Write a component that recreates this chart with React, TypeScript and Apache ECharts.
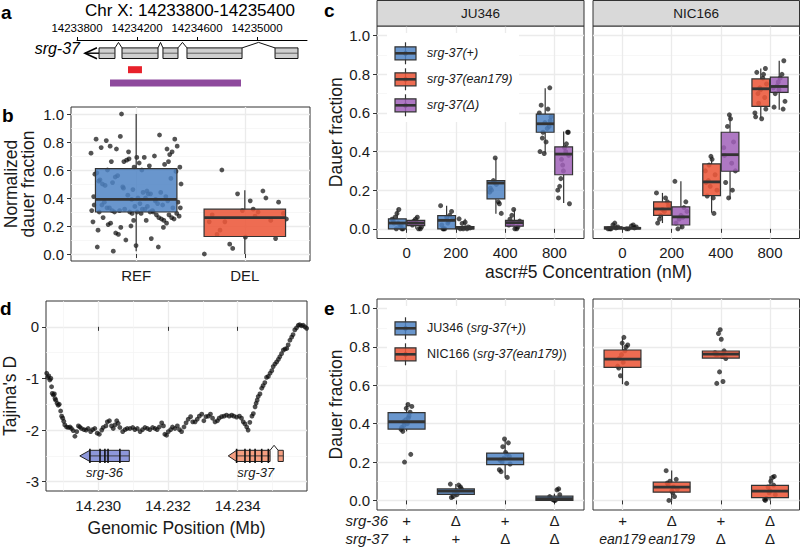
import React, { useEffect, useRef } from 'react';
import * as echarts from 'echarts';

// ---------------- data ----------------
// a: gene model of srg-37
const regionTicks = [14233800, 14234200, 14234600, 14235000];
const regionMin = 14233800;
const regionMax = 14235333;
const regionTitle = 'Chr X: 14233800-14235400';
const srg37TxStart = 14233853;
const srg37Exons = [
  [14233947, 14234053],
  [14234100, 14234340],
  [14234373, 14234473],
  [14234533, 14234900],
  [14235120, 14235273],
];
const ean179Span = [14234140, 14234233];
const deltaSpan = [14234020, 14234893];

// b
const bCategories = ['REF', 'DEL'];
const bBoxStats = [
  [0.02, 0.30, 0.39, 0.61, 1.00],
  [0.00, 0.125, 0.26, 0.32, 0.455],
];
const bRefValues = [0.45, 0.31, 0.66, 0.24, 0.52, 0.38, 0.84, 0.29, 0.60, 0.33, 0.19, 0.73, 0.41, 0.30, 0.55, 0.26, 0.69, 0.35, 0.05, 0.47,
  0.62, 0.32, 0.77, 0.22, 0.39, 0.58, 0.30, 0.14, 0.82, 0.36, 0.49, 0.25, 0.67, 0.31, 0.43, 0.02, 0.71, 0.34, 0.53, 0.28,
  1.00, 0.37, 0.44, 0.21, 0.64, 0.30, 0.57, 0.11, 0.75, 0.33, 0.40, 0.26, 0.85, 0.32, 0.50, 0.24, 0.66, 0.38, 0.46, 0.17,
  0.70, 0.31, 0.59, 0.29, 0.81, 0.35, 0.42, 0.23, 0.63, 0.30, 0.54, 0.06, 0.76, 0.36, 0.48, 0.27, 0.69, 0.33, 0.41, 0.20,
  0.82, 0.31, 0.56, 0.25, 0.65, 0.37, 0.44, 0.10, 0.72, 0.34, 0.51, 0.28, 0.62, 0.30, 0.39, 0.19, 0.77, 0.32, 0.60, 0.24,
  0.68, 0.35, 0.43, 0.15, 0.73, 0.30, 0.50, 0.26, 0.66, 0.33, 0.40, 0.22, 0.75, 0.29, 0.05];
const bDelValues = [0.27, 0.60, 0.11, 0.31, 0.23, 0.45, 0.07, 0.29, 0.38, 0.14, 0.24, 0.43, 0.00, 0.30, 0.23, 0.37, 0.12, 0.28, 0.40, 0.04, 0.25, 0.32, 0.17];

// c
const cFacets = ['JU346', 'NIC166'];
const cConcLabels = ['0', '200', '400', '800'];
const cLegendLabels = ['srg-37(+)', 'srg-37(ean179)', 'srg-37(Δ)'];
const cJU346PlusBox = [
  [0.0, 0.0, 0.03, 0.052, 0.105],
  [0.0, 0.0, 0.044, 0.068, 0.12],
  [0.078, 0.155, 0.237, 0.25, 0.367],
  [0.39, 0.50, 0.544, 0.594, 0.728],
];
const cJU346PlusPts = [
  [0.10, 0.03, 0.0, 0.08, 0.05, 0.01, 0.06, 0.0, 0.03, 0.04, 0.02, 0.0],
  [0.12, 0.04, 0.0, 0.09, 0.06, 0.02, 0.07, 0.0, 0.05, 0.03, 0.0],
  [0.367, 0.21, 0.14, 0.25, 0.08, 0.23, 0.20, 0.13, 0.24, 0.19],
  [0.73, 0.55, 0.40, 0.62, 0.50, 0.58, 0.45, 0.64, 0.53, 0.39, 0.60, 0.52, 0.47, 0.56],
];
const cJU346DeltaBox = [
  [0.0, 0.017, 0.03, 0.044, 0.065],
  [0.0, 0.0, 0.004, 0.012, 0.052],
  [0.0, 0.014, 0.032, 0.044, 0.10],
  [0.134, 0.28, 0.387, 0.424, 0.504],
];
const cJU346DeltaPts = [
  [0.06, 0.02, 0.0, 0.05, 0.03, 0.0, 0.04, 0.01, 0.03],
  [0.052, 0.0, 0.028, 0.005, 0.034, 0.0, 0.01, 0.0],
  [0.10, 0.02, 0.0, 0.07, 0.04, 0.0, 0.05, 0.01, 0.03],
  [0.50, 0.30, 0.16, 0.44, 0.36, 0.13, 0.42, 0.22, 0.50, 0.33, 0.20, 0.40, 0.26, 0.38],
];
const cNIC166Ean179Box = [
  [0.0, 0.0, 0.004, 0.01, 0.03],
  [0.03, 0.07, 0.103, 0.14, 0.186],
  [0.083, 0.172, 0.243, 0.336, 0.375],
  [0.573, 0.634, 0.725, 0.776, 0.83],
];
const cNIC166Ean179Pts = [
  [0.03, 0.0, 0.01, 0.02, 0.0, 0.005, 0.0],
  [0.186, 0.09, 0.05, 0.14, 0.10, 0.03, 0.16, 0.07, 0.12],
  [0.375, 0.24, 0.08, 0.33, 0.20, 0.36, 0.17, 0.28, 0.22, 0.30, 0.16, 0.25],
  [0.83, 0.72, 0.58, 0.80, 0.65, 0.75, 0.57, 0.81, 0.68, 0.73, 0.60, 0.78, 0.70, 0.62],
];
const cNIC166DeltaBox = [
  [0.0, 0.0, 0.003, 0.006, 0.02],
  [0.0, 0.02, 0.062, 0.114, 0.246],
  [0.155, 0.298, 0.384, 0.50, 0.59],
  [0.616, 0.706, 0.737, 0.785, 0.87],
];
const cNIC166DeltaPts = [
  [0.02, 0.0, 0.01, 0.015, 0.0, 0.005],
  [0.246, 0.06, 0.0, 0.14, 0.07, 0.03, 0.11, 0.05, 0.09, 0.01],
  [0.59, 0.38, 0.20, 0.53, 0.30, 0.57, 0.24, 0.45, 0.16, 0.42, 0.34],
  [0.87, 0.72, 0.63, 0.80, 0.74, 0.66, 0.78, 0.70, 0.62, 0.76, 0.73],
];

// d
const tajimaPos = [
  14.22852, 14.22855, 14.22858, 14.22861, 14.22864, 14.22866, 14.22868, 14.22871, 14.22874, 14.22876,
  14.22878, 14.22882, 14.22885, 14.22888, 14.22892, 14.22895, 14.22898, 14.22901, 14.22904, 14.22909,
  14.22914, 14.22919, 14.22923, 14.22928, 14.22933, 14.22938, 14.22943, 14.22947, 14.22952, 14.22959,
  14.22965, 14.22971, 14.22978, 14.22984, 14.22990, 14.22997, 14.23003, 14.23010, 14.23014, 14.23022,
  14.23026, 14.23032, 14.23038, 14.23043, 14.23048, 14.23053, 14.23057, 14.23062, 14.23070, 14.23077,
  14.23083, 14.23091, 14.23099, 14.23105, 14.23112, 14.23120, 14.23127, 14.23134, 14.23141, 14.23148,
  14.23156, 14.23163, 14.23169, 14.23175, 14.23182, 14.23187, 14.23191, 14.23196, 14.23201, 14.23208,
  14.23213, 14.23220, 14.23227, 14.23233, 14.23239, 14.23246, 14.23252, 14.23258, 14.23265, 14.23271,
  14.23278, 14.23284, 14.23290, 14.23297, 14.23303, 14.23309, 14.23316, 14.23322, 14.23328, 14.23335,
  14.23342, 14.23347, 14.23354, 14.23361, 14.23368, 14.23376, 14.23383, 14.23389, 14.23397, 14.23405,
  14.23411, 14.23416, 14.23421, 14.23426, 14.23430, 14.23435, 14.23441, 14.23445, 14.23450, 14.23453,
  14.23456, 14.23459, 14.23464, 14.23469, 14.23473, 14.23478, 14.23483, 14.23488, 14.23493, 14.23498,
  14.23502, 14.23507, 14.23512, 14.23517, 14.23521, 14.23526, 14.23531, 14.23536, 14.23541, 14.23545,
  14.23550, 14.23555, 14.23559, 14.23564, 14.23569, 14.23574, 14.23578, 14.23583, 14.23588, 14.23593,
  14.23598,
];
const tajimaD = [
  -0.90, -0.98, -0.95, -1.03, -1.00, -1.16, -1.29, -1.32, -1.30, -1.39,
  -1.42, -1.48, -1.52, -1.50, -1.63, -1.73, -1.77, -1.83, -1.90, -1.94,
  -1.95, -1.94, -1.97, -2.01, -2.12, -2.03, -1.92, -1.94, -1.97, -1.99,
  -2.00, -1.97, -2.03, -1.99, -1.97, -2.06, -2.08, -2.00, -1.95, -1.92,
  -1.84, -1.82, -1.92, -1.97, -1.90, -1.82, -1.87, -1.95, -2.03, -1.99,
  -1.97, -1.97, -1.95, -1.99, -1.97, -2.03, -1.99, -1.95, -1.97, -1.99,
  -1.95, -1.97, -1.99, -1.94, -1.86, -1.92, -2.08, -2.10, -2.03, -1.99,
  -1.94, -1.97, -1.92, -1.99, -2.03, -1.94, -1.86, -1.79, -1.74, -1.84,
  -1.84, -1.79, -1.73, -1.69, -1.82, -1.74, -1.73, -1.69, -1.77, -1.84,
  -1.82, -1.77, -1.74, -1.73, -1.71, -1.73, -1.71, -1.73, -1.75, -1.73,
  -1.77, -1.84, -1.88, -1.94, -2.00, -1.85, -1.73, -1.68, -1.55, -1.48,
  -1.42, -1.35, -1.30, -1.19, -1.14, -1.08, -0.98, -0.96, -0.90, -0.85,
  -0.77, -0.72, -0.68, -0.63, -0.58, -0.52, -0.45, -0.43, -0.42, -0.35,
  -0.26, -0.20, -0.15, -0.06, -0.02, 0.03, 0.04, 0.02, 0.03, 0.00,
  -0.03,
];
const dXMin = 14.2285;
const dXMax = 14.23599;
const dYMin = -3.18;
const dYMax = 0.5;
const dXTicks = [14.230, 14.232, 14.234];
const dXMinor = [14.229, 14.231, 14.233, 14.235];
const dYTicks = [-3, -2, -1, 0];
const dYMinor = [-2.5, -1.5, -0.5];
const dGenes = [
  { name: 'srg-36', start: 14.22947, end: 14.23089, marks: [14.22976, 14.23005, 14.23019, 14.23028, 14.23062], intron: null as number[] | null },
  { name: 'srg-37', start: 14.23373, end: 14.23531, marks: [14.23397, 14.23421, 14.23435, 14.2345, 14.23469, 14.23488], intron: [14.23493, 14.23516] },
];
const dGeneTrack = -2.5;

// e
const eSrg36 = ['+', 'Δ', '+', 'Δ'];
const eSrg37JU346 = ['+', '+', 'Δ', 'Δ'];
const eSrg37NIC166 = ['ean179', 'ean179', 'Δ', 'Δ'];
const eJU346Box = [
  [0.36, 0.372, 0.41, 0.458, 0.507],
  [0.017, 0.031, 0.048, 0.06, 0.085],
  [0.118, 0.187, 0.216, 0.247, 0.317],
  [0.0, 0.0, 0.009, 0.022, 0.035],
];
const eJU346Pts = [
  [0.50, 0.41, 0.24, 0.48, 0.38, 0.44, 0.20, 0.49, 0.40, 0.36, 0.46, 0.42, 0.37, 0.43, 0.39],
  [0.085, 0.045, 0.02, 0.07, 0.05, 0.015, 0.08, 0.04, 0.06, 0.03],
  [0.32, 0.21, 0.12, 0.28, 0.19, 0.25, 0.15, 0.30, 0.22, 0.16, 0.24, 0.20, 0.23],
  [0.06, 0.0, 0.02, 0.055, 0.005, 0.03, 0.0, 0.01],
];
const eNIC166Box = [
  [0.606, 0.694, 0.737, 0.784, 0.848],
  [0.0, 0.043, 0.069, 0.095, 0.156],
  [0.742, 0.742, 0.763, 0.779, 0.779],
  [0.0, 0.014, 0.048, 0.078, 0.126],
];
const eNIC166Pts = [
  [0.85, 0.74, 0.61, 0.82, 0.70, 0.78, 0.65, 0.81, 0.72, 0.69, 0.80, 0.76],
  [0.155, 0.07, 0.0, 0.11, 0.05, 0.09, 0.02, 0.10, 0.06, 0.04, 0.08],
  [0.89, 0.76, 0.62, 0.87, 0.74, 0.84, 0.61, 0.78, 0.67, 0.77, 0.75, 0.76],
  [0.125, 0.05, 0.0, 0.12, 0.07, 0.03, 0.10, 0.01, 0.08, 0.04, 0.005],
];

const fracTicks = [0, 0.2, 0.4, 0.6, 0.8, 1.0];
const fracMinor = [0.1, 0.3, 0.5, 0.7, 0.9];
const catTicks4 = [1, 2, 3, 4];
const catTicks2 = [1, 2];

// ---------------- styles ----------------
const FONT = '"Liberation Sans", Arial, Helvetica, sans-serif';
const INK = '#1a1a1a';
const BORDER = '#333333';
const GRID_MAJOR = '#EBEBEB';
const GRID_MINOR = '#F3F3F3';
const BLUE = 'rgba(79,132,196,0.85)';
const ORANGE = 'rgba(236,88,58,0.88)';
const PURPLE = 'rgba(160,96,184,0.85)';
const DOT = 'rgba(12,12,12,0.88)';

// deterministic jitter offset in [-1, 1)
const jitter = (i: number, k: number) => ((((i + 1) * 0.6180339887 + k * 0.4142) % 1) * 2 - 1);

function buildOption() {
  const grid: any[] = [];
  const xAxis: any[] = [];
  const yAxis: any[] = [];
  const series: any[] = [];
  const graphic: any[] = [];

  const addGrid = (left: number, top: number, width: number, height: number, framed = true) => {
    grid.push({ left, top, width, height, show: framed, borderColor: BORDER, borderWidth: 1,
      backgroundColor: framed ? '#fff' : 'transparent', containLabel: false, outerBoundsMode: 'none' });
    return grid.length - 1;
  };
  const push = (list: any[], a: any) => { list.push(a); return list.length - 1; };
  const labelStyle = { fontSize: 15, color: INK, fontFamily: FONT };
  const major = (gridIndex: number, min: number, max: number, ticks: number[], formatter: any, showTicks: boolean, extra: any = {}) => ({
    type: 'value', gridIndex, min, max, nameMoveOverlap: false,
    axisLine: { show: false },
    axisTick: { show: showTicks, customValues: ticks, length: 4, lineStyle: { color: BORDER, width: 1 } },
    axisLabel: { show: !!formatter, customValues: ticks, formatter: formatter || undefined, margin: 7, hideOverlap: false, ...labelStyle },
    splitLine: { show: true, lineStyle: { color: GRID_MAJOR, width: 1.3 } },
    ...extra,
  });
  const minor = (gridIndex: number, min: number, max: number, ticks: number[], position: string) => ({
    type: 'value', gridIndex, min, max, position,
    axisLine: { show: false },
    axisTick: { show: false, customValues: ticks },
    axisLabel: { show: false, customValues: ticks },
    splitLine: { show: true, lineStyle: { color: GRID_MINOR, width: 0.7 } },
  });
  const nameStyle = { fontSize: 17.5, color: INK, fontFamily: FONT };

  const boxSeries = (xi: number, yi: number, items: number[][], hw: number, fill: string) => ({
    type: 'custom', xAxisIndex: xi, yAxisIndex: yi, data: items, silent: true, z: 3,
    encode: { x: 0, y: [1, 2, 3, 4, 5] },
    renderItem: (params: any, api: any) => {
      const x = api.value(0);
      const lo = api.value(1), q1 = api.value(2), med = api.value(3), q3 = api.value(4), hi = api.value(5);
      const xl = api.coord([x - hw, med])[0];
      const xr = api.coord([x + hw, med])[0];
      const xc = api.coord([x, med])[0];
      const yLo = api.coord([x, lo])[1], yQ1 = api.coord([x, q1])[1], yMed = api.coord([x, med])[1];
      const yQ3 = api.coord([x, q3])[1], yHi = api.coord([x, hi])[1];
      return {
        type: 'group', children: [
          { type: 'line', shape: { x1: xc, y1: yHi, x2: xc, y2: yQ3 }, style: { stroke: BORDER, lineWidth: 1.2 } },
          { type: 'line', shape: { x1: xc, y1: yQ1, x2: xc, y2: yLo }, style: { stroke: BORDER, lineWidth: 1.2 } },
          { type: 'rect', shape: { x: xl, y: yQ3, width: xr - xl, height: Math.max(yQ1 - yQ3, 0.5) }, style: { fill, stroke: BORDER, lineWidth: 1.2 } },
          { type: 'line', shape: { x1: xl, y1: yMed, x2: xr, y2: yMed }, style: { stroke: BORDER, lineWidth: 2.8 } },
        ],
      };
    },
  });
  const pointSeries = (xi: number, yi: number, groups: number[][], center: (k: number) => number, spread: number, size = 5) => {
    const data: number[][] = [];
    groups.forEach((vals, k) => vals.forEach((v, i) => data.push([center(k) + jitter(i, k) * spread, v])));
    return { type: 'scatter', xAxisIndex: xi, yAxisIndex: yi, data, symbolSize: size, silent: true, z: 2,
      itemStyle: { color: DOT }, emphasis: { disabled: true } };
  };

  // ---------- panel a ----------
  const gA = addGrid(77, 40, 230, 49.5, false);
  const xA = push(xAxis, {
    type: 'value', gridIndex: gA, position: 'top', min: regionMin, max: regionMax,
    axisLine: { show: true, lineStyle: { color: '#000', width: 1 } },
    axisTick: { show: true, customValues: regionTicks, length: 3, lineStyle: { color: '#000' } },
    axisLabel: { customValues: regionTicks, formatter: (v: number) => String(v), margin: 6.5, fontSize: 11.5, color: '#000', fontFamily: FONT, hideOverlap: false },
    splitLine: { show: false },
  });
  const yA = push(yAxis, { type: 'value', gridIndex: gA, min: 0.2, max: 3.2, inverse: true, show: false });
  const ROW_GENE = 1.0, ROW_EAN = 2.0, ROW_DEL = 2.8;
  series.push({
    type: 'custom', xAxisIndex: xA, yAxisIndex: yA, silent: true, data: [[srg37TxStart, srg37Exons[srg37Exons.length - 1][1], ROW_GENE]],
    encode: { x: [0, 1], y: 2 },
    renderItem: (params: any, api: any) => {
      const pt = (bp: number) => api.coord([bp, api.value(2)]);
      const [tipX, yMid] = pt(api.value(0));
      const half = 5.3;
      const top = yMid - half;
      const kids: any[] = [];
      const firstX = pt(srg37Exons[0][0])[0];
      kids.push({ type: 'line', shape: { x1: tipX, y1: yMid, x2: firstX, y2: yMid }, style: { stroke: '#000', lineWidth: 1.4 } });
      kids.push({ type: 'polyline', shape: { points: [[tipX + 12, yMid - 5.5], [tipX, yMid], [tipX + 12, yMid + 5.5]] }, style: { stroke: '#000', fill: 'none', lineWidth: 1.6 } });
      srg37Exons.forEach(([s, e], i) => {
        const xs = pt(s)[0], xe = pt(e)[0];
        if (i > 0) {
          const pe = pt(srg37Exons[i - 1][1])[0];
          kids.push({ type: 'polyline', shape: { points: [[pe, top], [(pe + xs) / 2, top - 5.5], [xs, top]] }, style: { stroke: '#111', fill: 'none', lineWidth: 1 } });
        }
        kids.push({ type: 'rect', shape: { x: xs, y: top, width: xe - xs, height: 2 * half }, style: { fill: '#CFCFCF', stroke: '#111', lineWidth: 1 } });
        kids.push({ type: 'line', shape: { x1: xs, y1: yMid, x2: xe, y2: yMid }, style: { stroke: '#444', lineWidth: 0.8 } });
      });
      return { type: 'group', children: kids };
    },
  });
  const spanRender = (fill: string) => (params: any, api: any) => {
    const a = api.coord([api.value(0), api.value(2)]);
    const b = api.coord([api.value(1), api.value(2)]);
    return { type: 'rect', shape: { x: a[0], y: a[1] - 3.5, width: b[0] - a[0], height: 7 }, style: { fill } };
  };
  series.push({ type: 'custom', xAxisIndex: xA, yAxisIndex: yA, silent: true, data: [[ean179Span[0], ean179Span[1], ROW_EAN]], encode: { x: [0, 1], y: 2 }, renderItem: spanRender('#E8212B') });
  series.push({ type: 'custom', xAxisIndex: xA, yAxisIndex: yA, silent: true, data: [[deltaSpan[0], deltaSpan[1], ROW_DEL]], encode: { x: [0, 1], y: 2 }, renderItem: spanRender('#8E4A9D') });

  // ---------- panel b ----------
  const gB = addGrid(71, 107, 239, 154);
  const xB = push(xAxis, major(gB, 0.4, 2.6, catTicks2, (v: number) => bCategories[Math.round(v) - 1], true));
  xAxis[xB].axisLabel.margin = 6.5;
  const yB = push(yAxis, major(gB, -0.05, 1.05, fracTicks, (v: number) => v.toFixed(1), true, {
    name: 'Normalized\ndauer fraction', nameLocation: 'middle', nameGap: 35, nameTextStyle: { ...nameStyle, lineHeight: 17 },
  }));
  push(yAxis, minor(gB, -0.05, 1.05, fracMinor, 'right'));
  series.push(pointSeries(xB, yB, [bRefValues], () => 1, 0.42, 4.8));
  series.push(pointSeries(xB, yB, [bDelValues], () => 2, 0.4, 4.8));
  series.push(boxSeries(xB, yB, [[1, ...bBoxStats[0]]], 0.375, BLUE));
  series.push(boxSeries(xB, yB, [[2, ...bBoxStats[1]]], 0.375, ORANGE));

  // ---------- panel c ----------
  const dodge = 0.1875;
  const boxHW = 0.18;
  const cPanels = [
    { left: 377, width: 207, groups: [[cJU346PlusBox, cJU346PlusPts, BLUE], [cJU346DeltaBox, cJU346DeltaPts, PURPLE]], first: true },
    { left: 593, width: 206.5, groups: [[cNIC166Ean179Box, cNIC166Ean179Pts, ORANGE], [cNIC166DeltaBox, cNIC166DeltaPts, PURPLE]], first: false },
  ];
  cPanels.forEach((p, pi) => {
    const g = addGrid(p.left, 26, p.width, 212.5);
    const xi = push(xAxis, major(g, 0.4, 4.6, catTicks4, (v: number) => cConcLabels[Math.round(v) - 1], true));
    xAxis[xi].axisLabel.margin = 6.5;
    const yi = push(yAxis, major(g, -0.05, 1.05, fracTicks, p.first ? (v: number) => v.toFixed(1) : null, p.first,
      p.first ? { name: 'Dauer fraction', nameLocation: 'middle', nameGap: 32, nameTextStyle: nameStyle } : {}));
    push(yAxis, minor(g, -0.05, 1.05, fracMinor, 'right'));
    (p.groups as any[]).forEach(([boxes, pts, fill], gi) => {
      const off = gi === 0 ? -dodge : dodge;
      series.push(pointSeries(xi, yi, pts, (k) => k + 1 + off, 0.13, 5));
      series.push(boxSeries(xi, yi, boxes.map((s: number[], k: number) => [k + 1 + off, ...s]), boxHW, fill));
    });
    graphic.push({ type: 'rect', z: 100, shape: { x: p.left, y: 0.5, width: p.width, height: 25.5 }, style: { fill: '#D9D9D9', stroke: BORDER, lineWidth: 1 } });
    graphic.push({ type: 'text', z: 101, x: p.left + p.width / 2, y: 13.5, style: { text: cFacets[pi], fill: INK, fontSize: 13.5, fontFamily: FONT, align: 'center', verticalAlign: 'middle', textAlign: 'center', textVerticalAlign: 'middle' } });
  });

  // ---------- panel d ----------
  const gD = addGrid(46, 301, 261, 190);
  const xD = push(xAxis, major(gD, dXMin, dXMax, dXTicks, (v: number) => v.toFixed(3), true, {
    name: 'Genomic Position (Mb)', nameLocation: 'middle', nameGap: 28, nameTextStyle: nameStyle,
  }));
  xAxis[xD].axisLabel.margin = 6.5;
  push(xAxis, minor(gD, dXMin, dXMax, dXMinor, 'top'));
  const yD = push(yAxis, major(gD, dYMin, dYMax, dYTicks, (v: number) => String(v), true, {
    name: "Tajima's D", nameLocation: 'middle', nameGap: 27, nameTextStyle: nameStyle,
  }));
  push(yAxis, minor(gD, dYMin, dYMax, dYMinor, 'right'));
  series.push({ type: 'scatter', xAxisIndex: xD, yAxisIndex: yD, silent: true, z: 2, symbolSize: 4.8,
    data: tajimaPos.map((p, i) => [p, tajimaD[i]]), itemStyle: { color: 'rgba(12,12,12,0.9)' }, emphasis: { disabled: true } });
  const geneFills = ['#8D97DA', '#F59E80'];
  series.push({
    type: 'custom', xAxisIndex: xD, yAxisIndex: yD, silent: true, z: 4,
    data: dGenes.map((g) => [g.start, g.end, dGeneTrack]), encode: { x: [0, 1], y: 2 },
    renderItem: (params: any, api: any) => {
      const g = dGenes[params.dataIndex];
      const fill = geneFills[params.dataIndex];
      const P = (x: number) => api.coord([x, api.value(2)]);
      const [xs, ym] = P(g.start);
      const xe = P(g.end)[0];
      const h = 5.6;
      const headX = P(g.marks[0])[0];
      const bodyEnd = g.intron ? P(g.intron[0])[0] : xe;
      const kids: any[] = [];
      kids.push({ type: 'polygon', shape: { points: [[xs, ym], [headX, ym - h], [bodyEnd, ym - h], [bodyEnd, ym + h], [headX, ym + h]] }, style: { fill, stroke: '#222', lineWidth: 1 } });
      kids.push({ type: 'line', shape: { x1: headX, y1: ym, x2: bodyEnd, y2: ym }, style: { stroke: '#333', lineWidth: 0.9 } });
      if (g.intron) {
        const i0 = P(g.intron[0])[0], i1 = P(g.intron[1])[0];
        kids.push({ type: 'polyline', shape: { points: [[i0, ym - h], [(i0 + i1) / 2, ym - h - 5], [i1, ym - h]] }, style: { stroke: '#222', fill: 'none', lineWidth: 1 } });
        kids.push({ type: 'rect', shape: { x: i1, y: ym - h, width: xe - i1, height: 2 * h }, style: { fill, stroke: '#222', lineWidth: 1 } });
        kids.push({ type: 'line', shape: { x1: i1, y1: ym, x2: xe, y2: ym }, style: { stroke: '#333', lineWidth: 0.9 } });
      }
      g.marks.forEach((m) => {
        const xm = P(m)[0];
        kids.push({ type: 'line', shape: { x1: xm, y1: ym - h - 1.5, x2: xm, y2: ym + h + 1.5 }, style: { stroke: '#111', lineWidth: 1.6 } });
      });
      kids.push({ type: 'text', style: { text: g.name, x: (xs + xe) / 2, y: ym + 16.5, fill: INK, fontSize: 13, fontStyle: 'italic', fontFamily: FONT, align: 'center', verticalAlign: 'middle' } });
      return { type: 'group', children: kids };
    },
  });

  // ---------- panel e ----------
  const eRich = {
    up: { fontSize: 15, lineHeight: 18, color: INK, fontFamily: FONT },
    it: { fontSize: 14, lineHeight: 18, color: INK, fontFamily: FONT, fontStyle: 'italic' },
  };
  const eFmt = (row2: string[]) => (v: number) => {
    const i = Math.round(v) - 1;
    const f = (s: string) => (s === 'ean179' ? `{it|${s}}` : `{up|${s}}`);
    return `${f(eSrg36[i])}\n${f(row2[i])}`;
  };
  const ePanels = [
    { left: 377, width: 207, box: eJU346Box, pts: eJU346Pts, fill: BLUE, row2: eSrg37JU346, first: true },
    { left: 593, width: 206.5, box: eNIC166Box, pts: eNIC166Pts, fill: ORANGE, row2: eSrg37NIC166, first: false },
  ];
  ePanels.forEach((p) => {
    const g = addGrid(p.left, 299, p.width, 211);
    const xi = push(xAxis, major(g, 0.4, 4.6, catTicks4, eFmt(p.row2), true));
    xAxis[xi].axisLabel.margin = 1.5;
    xAxis[xi].axisLabel.rich = eRich;
    xAxis[xi].axisLabel.lineHeight = 18;
    xAxis[xi].axisLabel.hideOverlap = false;
    xAxis[xi].axisLabel.interval = 0;
    const yi = push(yAxis, major(g, -0.05, 1.05, fracTicks, p.first ? (v: number) => v.toFixed(1) : null, p.first,
      p.first ? { name: 'Dauer fraction', nameLocation: 'middle', nameGap: 32, nameTextStyle: nameStyle } : {}));
    push(yAxis, minor(g, -0.05, 1.05, fracMinor, 'right'));
    series.push(pointSeries(xi, yi, p.pts, (k) => k + 1, 0.12, 5));
    series.push(boxSeries(xi, yi, p.box.map((s, k) => [k + 1, ...s]), 0.375, p.fill));
  });

  // ---------- annotations ----------
  const txt = (text: string, x: number, y: number, extra: any = {}, z = 102) => ({
    type: 'text', z, x, y,
    style: { text, fill: INK, fontFamily: FONT, fontSize: 15, align: 'left', verticalAlign: 'middle', textAlign: 'left', textVerticalAlign: 'middle', ...extra },
  });
  const bold = { fontSize: 19, fontWeight: 'bold', fill: '#000' };
  graphic.push(txt('a', 1, 12.5, bold));
  graphic.push(txt('b', 2, 115, bold));
  graphic.push(txt('c', 324, 10.5, bold));
  graphic.push(txt('d', 0, 308.5, bold));
  graphic.push(txt('e', 324, 308.5, bold));
  graphic.push(txt(regionTitle, 190, 10.5, { fontSize: 17, align: 'center', textAlign: 'center', fill: '#000' }));
  graphic.push(txt('srg-37', 80, 48.5, { fontSize: 16, fontStyle: 'italic', align: 'right', textAlign: 'right', fill: '#000' }));
  graphic.push(txt('ascr#5 Concentration (nM)', 588.5, 272, { fontSize: 17.5, align: 'center', textAlign: 'center' }));
  graphic.push(txt('srg-36', 388, 520.5, { fontSize: 15, fontStyle: 'italic', align: 'right', textAlign: 'right' }));
  graphic.push(txt('srg-37', 388, 538.5, { fontSize: 15, fontStyle: 'italic', align: 'right', textAlign: 'right' }));

  const legendKey = (cx: number, cy: number, fill: string) => [
    { type: 'line', z: 101, shape: { x1: cx, y1: cy - 11, x2: cx, y2: cy + 11 }, style: { stroke: BORDER, lineWidth: 1.2 } },
    { type: 'circle', z: 101, shape: { cx, cy, r: 2.5 }, style: { fill: DOT } },
    { type: 'rect', z: 101, shape: { x: cx - 10.5, y: cy - 6.5, width: 21, height: 13 }, style: { fill, stroke: BORDER, lineWidth: 1.2 } },
    { type: 'line', z: 101, shape: { x1: cx - 10.5, y1: cy, x2: cx + 10.5, y2: cy }, style: { stroke: BORDER, lineWidth: 2.6 } },
  ];
  // legend c
  graphic.push({ type: 'rect', z: 100, shape: { x: 387, y: 33, width: 132, height: 89 }, style: { fill: '#fff' } });
  [BLUE, ORANGE, PURPLE].forEach((f, i) => {
    graphic.push(...legendKey(405.5, 53.3 + i * 26, f));
    graphic.push(txt(cLegendLabels[i], 427, 53.3 + i * 26, { fontSize: 12.5, fontStyle: 'italic' }));
  });
  // legend e
  graphic.push({ type: 'rect', z: 100, shape: { x: 387, y: 306, width: 196, height: 64 }, style: { fill: '#fff' } });
  const eLegend = [
    ['JU346 (', 'srg-37(+)', ')', BLUE],
    ['NIC166 (', 'srg-37(ean179)', ')', ORANGE],
  ];
  eLegend.forEach(([a, b, c, f], i) => {
    graphic.push(...legendKey(405.5, 328.3 + i * 26, f));
    graphic.push({
      type: 'text', z: 102, x: 427, y: 328.3 + i * 26,
      style: {
        text: `{n|${a}}{i|${b}}{n|${c}}`, verticalAlign: 'middle', textVerticalAlign: 'middle', align: 'left', textAlign: 'left',
        rich: {
          n: { fontSize: 12.5, fontFamily: FONT, fill: INK, color: INK },
          i: { fontSize: 12.5, fontFamily: FONT, fill: INK, color: INK, fontStyle: 'italic' },
        },
      },
    });
  });

  return {
    animation: false,
    backgroundColor: '#ffffff',
    textStyle: { fontFamily: FONT },
    grid, xAxis, yAxis, series, graphic,
  };
}

export default function App() {
  const ref = useRef<HTMLDivElement>(null);
  useEffect(() => {
    if (!ref.current) return;
    const chart = echarts.init(ref.current, undefined, { renderer: 'svg', width: 800, height: 550 });
    chart.setOption(buildOption() as any);
    return () => chart.dispose();
  }, []);
  return <div ref={ref} style={{ position: 'absolute', left: 0, top: 0, width: 800, height: 550, background: '#fff' }} />;
}
